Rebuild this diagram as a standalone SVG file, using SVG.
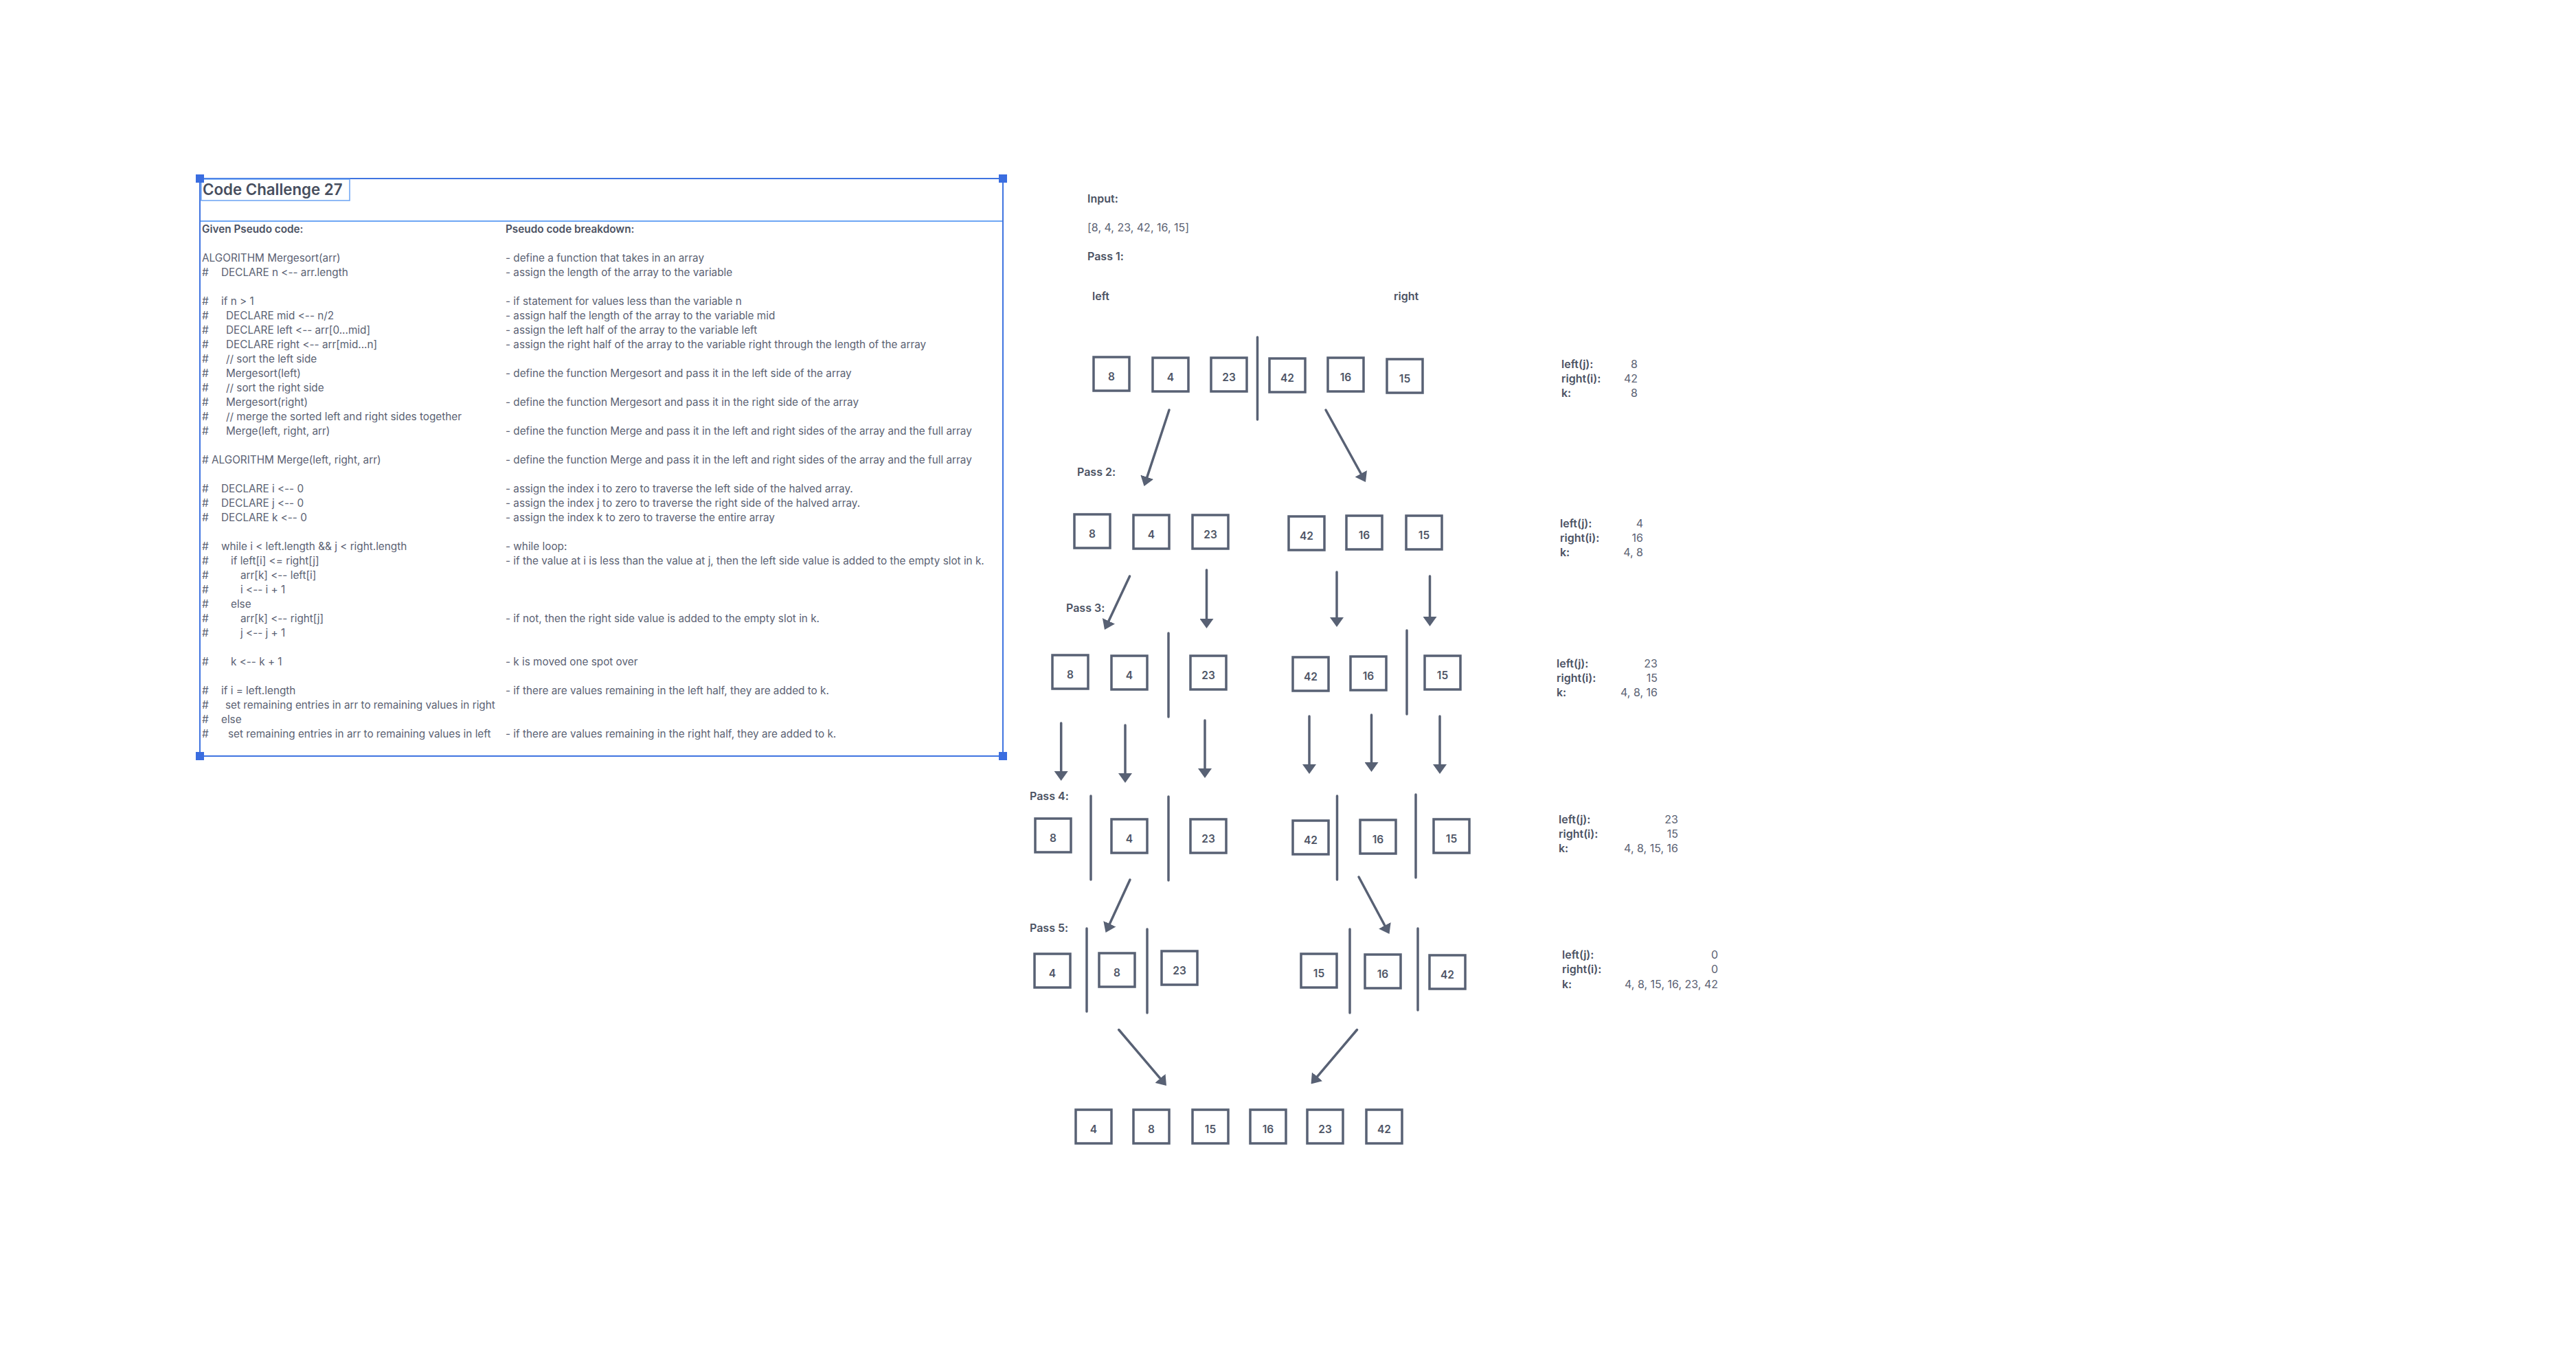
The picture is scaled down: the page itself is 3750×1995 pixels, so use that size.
<svg xmlns="http://www.w3.org/2000/svg" width="3750" height="1995" viewBox="0 0 3750 1995">
<defs>
<style>
text{font-feature-settings:"calt" 0,"liga" 0;font-variant-ligatures:none}
.t{font-family:Inter,"Liberation Sans",sans-serif;font-size:15.3px;fill:#5b6273}
.b{font-weight:600;fill:#4b5263}
.title{font-family:Inter,"Liberation Sans",sans-serif;font-size:22.3px;font-weight:600;fill:#474e5e}
.lbl{font-family:Inter,"Liberation Sans",sans-serif;font-size:16px;font-weight:600;fill:#4b5263}
.val{font-family:Inter,"Liberation Sans",sans-serif;font-size:16px;fill:#5b6273;text-anchor:end}
.bx{fill:#fff;stroke:#586174;stroke-width:3.5}
.num{font-family:Inter,"Liberation Sans",sans-serif;font-size:15.5px;font-weight:600;fill:#4e5566;text-anchor:middle}
.dv{stroke:#586174;stroke-width:3.5;stroke-linecap:round}
.ar{stroke:#586174;stroke-width:3.5;stroke-linecap:round;fill:none;marker-end:url(#ah)}
.sel{stroke:#3f74e0;stroke-width:2;fill:none}
.hd{fill:#3a6de0}
</style>
<marker id="ah" viewBox="0 0 14 20" refX="6" refY="10" markerWidth="14" markerHeight="20" markerUnits="userSpaceOnUse" orient="auto">
<path d="M0,0 L14,10 L0,20 Z" fill="#586174"/>
</marker>
</defs>
<rect width="3750" height="1995" fill="#ffffff"/>

<g id="code-panel">
<line x1="291" y1="322" x2="1460" y2="322" stroke="#6ea6f4" stroke-width="2"/>
<rect x="291" y="260" width="1169" height="841" class="sel"/>
<rect x="293" y="261" width="216" height="31" fill="none" stroke="#6aa3f3" stroke-width="1.5"/>
<text x="295" y="284" class="title">Code Challenge 27</text>
<rect x="285" y="254" width="12" height="12" class="hd"/>
<rect x="1454" y="254" width="12" height="12" class="hd"/>
<rect x="285" y="1095" width="12" height="12" class="hd"/>
<rect x="1454" y="1095" width="12" height="12" class="hd"/>

<g id="given-code" class="t">
<text x="294" y="339" class="t b">Given Pseudo code:</text>
<text x="294" y="381" class="t">ALGORITHM Mergesort(arr)</text>
<text y="402" class="t"><tspan x="294">#</tspan><tspan x="322">DECLARE n &lt;-- arr.length</tspan></text>
<text y="444" class="t"><tspan x="294">#</tspan><tspan x="322">if n &gt; 1</tspan></text>
<text y="465" class="t"><tspan x="294">#</tspan><tspan x="329">DECLARE mid &lt;-- n/2</tspan></text>
<text y="486" class="t"><tspan x="294">#</tspan><tspan x="329">DECLARE left &lt;-- arr[0...mid]</tspan></text>
<text y="507" class="t"><tspan x="294">#</tspan><tspan x="329">DECLARE right &lt;-- arr[mid...n]</tspan></text>
<text y="528" class="t"><tspan x="294">#</tspan><tspan x="329">// sort the left side</tspan></text>
<text y="549" class="t"><tspan x="294">#</tspan><tspan x="329">Mergesort(left)</tspan></text>
<text y="570" class="t"><tspan x="294">#</tspan><tspan x="329">// sort the right side</tspan></text>
<text y="591" class="t"><tspan x="294">#</tspan><tspan x="329">Mergesort(right)</tspan></text>
<text y="612" class="t"><tspan x="294">#</tspan><tspan x="329">// merge the sorted left and right sides together</tspan></text>
<text y="633" class="t"><tspan x="294">#</tspan><tspan x="329">Merge(left, right, arr)</tspan></text>
<text x="294" y="675" class="t"># ALGORITHM Merge(left, right, arr)</text>
<text y="717" class="t"><tspan x="294">#</tspan><tspan x="322">DECLARE i &lt;-- 0</tspan></text>
<text y="738" class="t"><tspan x="294">#</tspan><tspan x="322">DECLARE j &lt;-- 0</tspan></text>
<text y="759" class="t"><tspan x="294">#</tspan><tspan x="322">DECLARE k &lt;-- 0</tspan></text>
<text y="801" class="t"><tspan x="294">#</tspan><tspan x="322">while i &lt; left.length &amp;&amp; j &lt; right.length</tspan></text>
<text y="822" class="t"><tspan x="294">#</tspan><tspan x="336">if left[i] &lt;= right[j]</tspan></text>
<text y="843" class="t"><tspan x="294">#</tspan><tspan x="350">arr[k] &lt;-- left[i]</tspan></text>
<text y="864" class="t"><tspan x="294">#</tspan><tspan x="350">i &lt;-- i + 1</tspan></text>
<text y="885" class="t"><tspan x="294">#</tspan><tspan x="336">else</tspan></text>
<text y="906" class="t"><tspan x="294">#</tspan><tspan x="350">arr[k] &lt;-- right[j]</tspan></text>
<text y="927" class="t"><tspan x="294">#</tspan><tspan x="350">j &lt;-- j + 1</tspan></text>
<text y="969" class="t"><tspan x="294">#</tspan><tspan x="336">k &lt;-- k + 1</tspan></text>
<text y="1011" class="t"><tspan x="294">#</tspan><tspan x="322">if i = left.length</tspan></text>
<text y="1032" class="t"><tspan x="294">#</tspan><tspan x="328">set remaining entries in arr to remaining values in right</tspan></text>
<text y="1053" class="t"><tspan x="294">#</tspan><tspan x="322">else</tspan></text>
<text y="1074" class="t"><tspan x="294">#</tspan><tspan x="332">set remaining entries in arr to remaining values in left</tspan></text>
</g>

<g id="breakdown">
<text x="736" y="339" class="t b">Pseudo code breakdown:</text>
<text x="736" y="381" class="t">- define a function that takes in an array</text>
<text x="736" y="402" class="t">- assign the length of the array to the variable</text>
<text x="736" y="444" class="t">- if statement for values less than the variable n</text>
<text x="736" y="465" class="t">- assign half the length of the array to the variable mid</text>
<text x="736" y="486" class="t">- assign the left half of the array to the variable left</text>
<text x="736" y="507" class="t">- assign the right half of the array to the variable right through the length of the array</text>
<text x="736" y="549" class="t">- define the function Mergesort and pass it in the left side of the array</text>
<text x="736" y="591" class="t">- define the function Mergesort and pass it in the right side of the array</text>
<text x="736" y="633" class="t">- define the function Merge and pass it in the left and right sides of the array and the full array</text>
<text x="736" y="675" class="t">- define the function Merge and pass it in the left and right sides of the array and the full array</text>
<text x="736" y="717" class="t">- assign the index i to zero to traverse the left side of the halved array.</text>
<text x="736" y="738" class="t">- assign the index j to zero to traverse the right side of the halved array.</text>
<text x="736" y="759" class="t">- assign the index k to zero to traverse the entire array</text>
<text x="736" y="801" class="t">- while loop:</text>
<text x="736" y="822" class="t">- if the value at i is less than the value at j, then the left side value is added to the empty slot in k.</text>
<text x="736" y="906" class="t">- if not, then the right side value is added to the empty slot in k.</text>
<text x="736" y="969" class="t">- k is moved one spot over</text>
<text x="736" y="1011" class="t">- if there are values remaining in the left half, they are added to k.</text>
<text x="736" y="1074" class="t">- if there are values remaining in the right half, they are added to k.</text>
</g>
</g>

<g id="headings">
<text x="1583" y="294.5" class="lbl">Input:</text>
<text x="1583" y="337" class="val" style="text-anchor:start">[8, 4, 23, 42, 16, 15]</text>
<text x="1583" y="378.5" class="lbl">Pass 1:</text>
<text x="1590" y="436.5" class="lbl">left</text>
<text x="2029" y="436.5" class="lbl">right</text>
<text x="1568" y="693" class="lbl">Pass 2:</text>
<text x="1552" y="890.5" class="lbl">Pass 3:</text>
<text x="1499" y="1164.5" class="lbl">Pass 4:</text>
<text x="1499" y="1356.5" class="lbl">Pass 5:</text>
</g>

<g id="pass1">
<g id="p1-8"><rect x="1592" y="520" width="52" height="49" class="bx"/><text x="1618" y="554" class="num">8</text></g>
<g id="p1-4"><rect x="1678" y="521" width="52" height="49" class="bx"/><text x="1704" y="555" class="num">4</text></g>
<g id="p1-23"><rect x="1763" y="521" width="52" height="49" class="bx"/><text x="1789" y="555" class="num">23</text></g>
<g id="p1-42"><rect x="1848" y="522" width="52" height="49" class="bx"/><text x="1874" y="556" class="num">42</text></g>
<g id="p1-16"><rect x="1933" y="521" width="52" height="49" class="bx"/><text x="1959" y="555" class="num">16</text></g>
<g id="p1-15"><rect x="2019" y="523" width="52" height="49" class="bx"/><text x="2045" y="557" class="num">15</text></g>
</g>

<g id="pass2">
<g id="p2-8"><rect x="1564" y="749" width="52" height="49" class="bx"/><text x="1590" y="783" class="num">8</text></g>
<g id="p2-4"><rect x="1650" y="750" width="52" height="49" class="bx"/><text x="1676" y="784" class="num">4</text></g>
<g id="p2-23"><rect x="1736" y="750" width="52" height="49" class="bx"/><text x="1762" y="784" class="num">23</text></g>
<g id="p2-42"><rect x="1876" y="752" width="52" height="49" class="bx"/><text x="1902" y="786" class="num">42</text></g>
<g id="p2-16"><rect x="1960" y="751" width="52" height="49" class="bx"/><text x="1986" y="785" class="num">16</text></g>
<g id="p2-15"><rect x="2047" y="751" width="52" height="49" class="bx"/><text x="2073" y="785" class="num">15</text></g>
</g>

<g id="pass3">
<g id="p3-8"><rect x="1532" y="954" width="52" height="49" class="bx"/><text x="1558" y="988" class="num">8</text></g>
<g id="p3-4"><rect x="1618" y="955" width="52" height="49" class="bx"/><text x="1644" y="989" class="num">4</text></g>
<g id="p3-23"><rect x="1733" y="955" width="52" height="49" class="bx"/><text x="1759" y="989" class="num">23</text></g>
<g id="p3-42"><rect x="1882" y="957" width="52" height="49" class="bx"/><text x="1908" y="991" class="num">42</text></g>
<g id="p3-16"><rect x="1966" y="956" width="52" height="49" class="bx"/><text x="1992" y="990" class="num">16</text></g>
<g id="p3-15"><rect x="2074" y="955" width="52" height="49" class="bx"/><text x="2100" y="989" class="num">15</text></g>
</g>

<g id="pass4">
<g id="p4-8"><rect x="1507" y="1192" width="52" height="49" class="bx"/><text x="1533" y="1226" class="num">8</text></g>
<g id="p4-4"><rect x="1618" y="1193" width="52" height="49" class="bx"/><text x="1644" y="1227" class="num">4</text></g>
<g id="p4-23"><rect x="1733" y="1193" width="52" height="49" class="bx"/><text x="1759" y="1227" class="num">23</text></g>
<g id="p4-42"><rect x="1882" y="1195" width="52" height="49" class="bx"/><text x="1908" y="1229" class="num">42</text></g>
<g id="p4-16"><rect x="1980" y="1194" width="52" height="49" class="bx"/><text x="2006" y="1228" class="num">16</text></g>
<g id="p4-15"><rect x="2087" y="1193" width="52" height="49" class="bx"/><text x="2113" y="1227" class="num">15</text></g>
</g>

<g id="pass5">
<g id="p5-4"><rect x="1506" y="1389" width="52" height="49" class="bx"/><text x="1532" y="1423" class="num">4</text></g>
<g id="p5-8"><rect x="1600" y="1388" width="52" height="49" class="bx"/><text x="1626" y="1422" class="num">8</text></g>
<g id="p5-23"><rect x="1691" y="1385" width="52" height="49" class="bx"/><text x="1717" y="1419" class="num">23</text></g>
<g id="p5-15"><rect x="1894" y="1389" width="52" height="49" class="bx"/><text x="1920" y="1423" class="num">15</text></g>
<g id="p5-16"><rect x="1987" y="1390" width="52" height="49" class="bx"/><text x="2013" y="1424" class="num">16</text></g>
<g id="p5-42"><rect x="2081" y="1391" width="52" height="49" class="bx"/><text x="2107" y="1425" class="num">42</text></g>
</g>

<g id="result">
<g id="r-4"><rect x="1566" y="1616" width="52" height="49" class="bx"/><text x="1592" y="1650" class="num">4</text></g>
<g id="r-8"><rect x="1650" y="1616" width="52" height="49" class="bx"/><text x="1676" y="1650" class="num">8</text></g>
<g id="r-15"><rect x="1736" y="1616" width="52" height="49" class="bx"/><text x="1762" y="1650" class="num">15</text></g>
<g id="r-16"><rect x="1820" y="1616" width="52" height="49" class="bx"/><text x="1846" y="1650" class="num">16</text></g>
<g id="r-23"><rect x="1903" y="1616" width="52" height="49" class="bx"/><text x="1929" y="1650" class="num">23</text></g>
<g id="r-42"><rect x="1989" y="1616" width="52" height="49" class="bx"/><text x="2015" y="1650" class="num">42</text></g>
</g>

<g id="dividers">
<line x1="1830.5" y1="491" x2="1830.5" y2="611" class="dv"/>
<line x1="1701" y1="922" x2="1701" y2="1044" class="dv"/>
<line x1="2048" y1="918" x2="2048" y2="1040" class="dv"/>
<line x1="1588" y1="1159" x2="1588" y2="1281" class="dv"/>
<line x1="1701" y1="1160" x2="1701" y2="1282" class="dv"/>
<line x1="1946.5" y1="1159" x2="1946.5" y2="1281" class="dv"/>
<line x1="2061" y1="1157" x2="2061" y2="1278" class="dv"/>
<line x1="1582" y1="1352" x2="1582" y2="1473" class="dv"/>
<line x1="1670" y1="1353" x2="1670" y2="1475" class="dv"/>
<line x1="1965" y1="1353" x2="1965" y2="1475" class="dv"/>
<line x1="2064" y1="1352" x2="2064" y2="1471" class="dv"/>
</g>

<g id="connectors">
<line x1="1702" y1="597" x2="1668" y2="700.4" class="ar"/>
<line x1="1930" y1="597" x2="1984.1" y2="695" class="ar"/>
<line x1="1644.6" y1="839" x2="1611.4" y2="909.8" class="ar"/>
<line x1="1756.5" y1="830" x2="1756.5" y2="907" class="ar"/>
<line x1="1946" y1="833" x2="1946" y2="905" class="ar"/>
<line x1="2081.5" y1="839" x2="2081.5" y2="904" class="ar"/>
<line x1="1544.7" y1="1053" x2="1544.7" y2="1129" class="ar"/>
<line x1="1638" y1="1056" x2="1638" y2="1132" class="ar"/>
<line x1="1754" y1="1049" x2="1754" y2="1125" class="ar"/>
<line x1="1906" y1="1043" x2="1906" y2="1119" class="ar"/>
<line x1="1996.5" y1="1041" x2="1996.5" y2="1116" class="ar"/>
<line x1="2096" y1="1043" x2="2096" y2="1119" class="ar"/>
<line x1="1645" y1="1281" x2="1612.9" y2="1350.7" class="ar"/>
<line x1="1978" y1="1277" x2="2018.7" y2="1353" class="ar"/>
<line x1="1628.7" y1="1499.5" x2="1692.8" y2="1574.9" class="ar"/>
<line x1="1975.5" y1="1499.5" x2="1913.7" y2="1572.4" class="ar"/>
</g>

<g id="state1">
<text x="2273" y="535.5" class="lbl">left(j):</text><text x="2384" y="535.5" class="val">8</text>
<text x="2273" y="556.5" class="lbl">right(i):</text><text x="2384" y="556.5" class="val">42</text>
<text x="2273" y="577.5" class="lbl">k:</text><text x="2384" y="577.5" class="val">8</text>
</g>
<g id="state2">
<text x="2271" y="768" class="lbl">left(j):</text><text x="2392" y="768" class="val">4</text>
<text x="2271" y="789" class="lbl">right(i):</text><text x="2392" y="789" class="val">16</text>
<text x="2271" y="810" class="lbl">k:</text><text x="2392" y="810" class="val">4, 8</text>
</g>
<g id="state3">
<text x="2266" y="972" class="lbl">left(j):</text><text x="2413" y="972" class="val">23</text>
<text x="2266" y="993" class="lbl">right(i):</text><text x="2413" y="993" class="val">15</text>
<text x="2266" y="1014" class="lbl">k:</text><text x="2413" y="1014" class="val">4, 8, 16</text>
</g>
<g id="state4">
<text x="2269" y="1199" class="lbl">left(j):</text><text x="2443" y="1199" class="val">23</text>
<text x="2269" y="1220" class="lbl">right(i):</text><text x="2443" y="1220" class="val">15</text>
<text x="2269" y="1241" class="lbl">k:</text><text x="2443" y="1241" class="val">4, 8, 15, 16</text>
</g>
<g id="state5">
<text x="2274" y="1396" class="lbl">left(j):</text><text x="2501" y="1396" class="val">0</text>
<text x="2274" y="1417" class="lbl">right(i):</text><text x="2501" y="1417" class="val">0</text>
<text x="2274" y="1439" class="lbl">k:</text><text x="2501" y="1439" class="val">4, 8, 15, 16, 23, 42</text>
</g>
</svg>
